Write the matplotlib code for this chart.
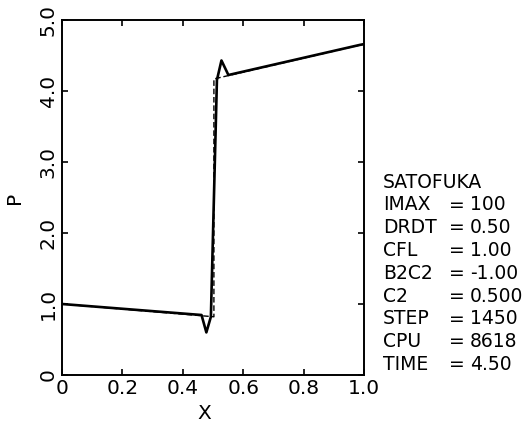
import matplotlib
matplotlib.use("Agg")
import matplotlib.pyplot as plt

# numerical solution (solid)
x_num = [0.0, 0.462, 0.478, 0.493, 0.513, 0.528, 0.551, 0.987, 1.0]
p_num = [1.00, 0.845, 0.60, 0.82, 4.155, 4.43, 4.225, 4.65, 4.66]

# exact solution (dashed)
x_exact = [0.0, 0.503, 0.503, 1.0]
p_exact = [1.00, 0.82, 4.17, 4.66]

x_ticks = [0, 0.2, 0.4, 0.6, 0.8, 1.0]
x_tick_labels = ["0", "0.2", "0.4", "0.6", "0.8", "1.0"]
y_ticks = [0, 1, 2, 3, 4, 5]
y_tick_labels = ["0", "1.0", "2.0", "3.0", "4.0", "5.0"]

param_names = ["IMAX", "DRDT", "CFL", "B2C2", "C2", "STEP", "CPU", "TIME"]
param_values = ["100", "0.50", "1.00", "-1.00", "0.500", "1450", "8618", "4.50"]
run_title = "SATOFUKA"

W, H = 529, 423
fig = plt.figure(figsize=(W / 100, H / 100), dpi=100)
ax = fig.add_axes([62 / W, (H - 375) / H, 302 / W, 355 / H])

ax.plot(x_exact, p_exact, color="black", lw=1.0, ls=(0, (4, 2)))
ax.plot(x_num, p_num, color="black", lw=1.9)

ax.set_xlim(0, 1)
ax.set_ylim(0, 5)
ax.set_xticks(x_ticks)
ax.set_xticklabels(x_tick_labels, fontsize=14.5)
ax.set_yticks(y_ticks)
ax.set_yticklabels(y_tick_labels, fontsize=14.5, rotation=90, va="center")
ax.tick_params(direction="in", length=4, width=1.2, top=True, right=True, pad=3)
for s in ax.spines.values():
    s.set_linewidth(1.4)

ax.set_xlabel("X", fontsize=14.5)
ax.xaxis.set_label_coords(0.47, -0.082)
ax.set_ylabel("P", fontsize=14.5)
ax.yaxis.set_label_coords(-0.125, 0.5)

# run parameter block on the right
fs = 13.5
fig.text(383 / W, 1 - 182 / H, run_title, fontsize=fs, va="center", ha="left")
for i, (name, val) in enumerate(zip(param_names, param_values)):
    y = 1 - (205 + i * 22.8) / H
    fig.text(383 / W, y, name, fontsize=fs, va="center", ha="left")
    fig.text(457 / W, y, "=", fontsize=fs, va="center", ha="center")
    fig.text(470 / W, y, val, fontsize=fs, va="center", ha="left")

fig.savefig("out.png", dpi=100)
